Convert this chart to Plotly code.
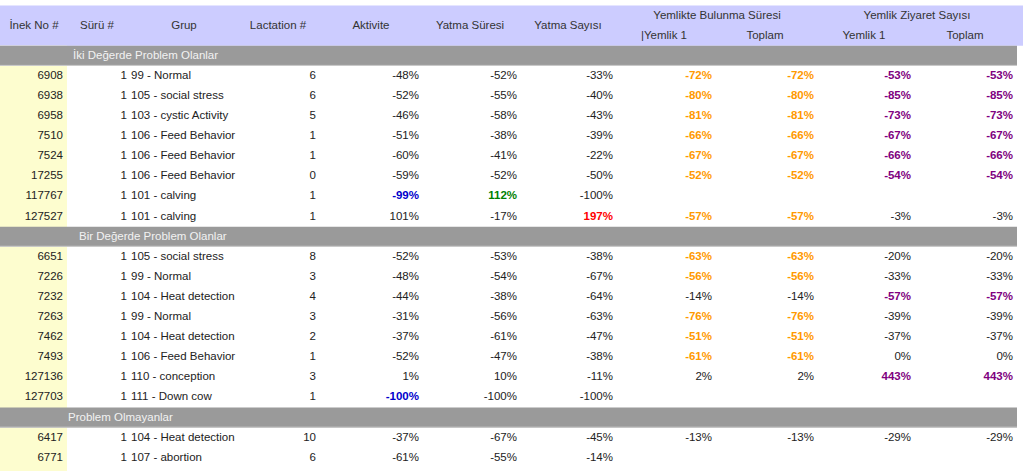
import plotly.graph_objects as go

# ---------------- data ----------------
sections = ["İki Değerde Problem Olanlar", "Bir Değerde Problem Olanlar", "Problem Olmayanlar"]
section_sizes = [8, 8, 2]

inek_no = [6908, 6938, 6958, 7510, 7524, 17255, 117767, 127527,
           6651, 7226, 7232, 7263, 7462, 7493, 127136, 127703,
           6417, 6771]
suru = [1, 1, 1, 1, 1, 1, 1, 1,
        1, 1, 1, 1, 1, 1, 1, 1,
        1, 1]
grup = ["99 - Normal", "105 - social stress", "103 - cystic Activity", "106 - Feed Behavior",
        "106 - Feed Behavior", "106 - Feed Behavior", "101 - calving", "101 - calving",
        "105 - social stress", "99 - Normal", "104 - Heat detection", "99 - Normal",
        "104 - Heat detection", "106 - Feed Behavior", "110 - conception", "111 - Down cow",
        "104 - Heat detection", "107 - abortion"]
lactation = [6, 6, 5, 1, 1, 0, 1, 1,
             8, 3, 4, 3, 2, 1, 3, 1,
             10, 6]
aktivite = [-48, -52, -46, -51, -60, -59, -99, 101,
            -52, -48, -44, -31, -37, -52, 1, -100,
            -37, -61]
yatma_suresi = [-52, -55, -58, -38, -41, -52, 112, -17,
                -53, -54, -38, -56, -61, -47, 10, -100,
                -67, -55]
yatma_sayisi = [-33, -40, -43, -39, -22, -50, -100, 197,
                -38, -67, -64, -63, -47, -38, -11, -100,
                -45, -14]
bulunma_yemlik1 = [-72, -80, -81, -66, -67, -52, None, -57,
                   -63, -56, -14, -76, -51, -61, 2, None,
                   -13, None]
bulunma_toplam = [-72, -80, -81, -66, -67, -52, None, -57,
                  -63, -56, -14, -76, -51, -61, 2, None,
                  -13, None]
ziyaret_yemlik1 = [-53, -85, -73, -67, -66, -54, None, -3,
                   -20, -33, -57, -39, -37, 0, 443, None,
                   -29, None]
ziyaret_toplam = [-53, -85, -73, -67, -66, -54, None, -3,
                  -20, -33, -57, -39, -37, 0, 443, None,
                  -29, None]

single_headers = ["İnek No #", "Sürü #", "Grup", "Lactation #", "Aktivite", "Yatma Süresi", "Yatma Sayısı"]
group_headers = ["Yemlikte Bulunma Süresi", "Yemlik Ziyaret Sayısı"]
sub_headers = ["|Yemlik 1", "Toplam", "Yemlik 1", "Toplam"]

# ---------------- layout / style ----------------
W, H = 1023, 471
TOP, PITCH = 5.6, 20.1
FONT = "Liberation Sans, Arial, sans-serif"
FS = 11.5
TXT = "#222222"
HDR_TXT = "#333333"
HDR_BG = "#ccccff"
SEC_BG = "#9a9a9a"
SEC_TXT = "#f2f2f2"
YEL = "#fdfdcf"
TABLE_RIGHT = 1017

single_header_x = [34, 97, 184, 278, 371, 470, 568]
group_header_x = [717, 917]
sub_header_x = [664, 765, 864, 965]
section_text_x = [73, 79, 68]

# anchors for values (right edge, except grup: left edge)
x_inek, x_suru, x_grup, x_lact = 63, 127, 131, 316
x_num = [419, 517, 613, 712, 814, 911, 1013]

COL_ORANGE = "#ff9900"
COL_PURPLE = "#800080"
COL_BLUE = "#0000cc"
COL_GREEN = "#008000"
COL_RED = "#ff0000"


def yc(i):
    return TOP + PITCH * (i + 0.5)


# row indices
data_rows = []
section_rows = []
r = 2
for s, n in zip(sections, section_sizes):
    section_rows.append(r)
    r += 1
    for _ in range(n):
        data_rows.append(r)
        r += 1

fig = go.Figure()
shapes = []

# header background
shapes.append(dict(type="rect", xref="x", yref="y", x0=0, x1=W, y0=TOP, y1=TOP + 2 * PITCH,
                   fillcolor=HDR_BG, line_width=0, layer="below"))
# yellow first column
shapes.append(dict(type="rect", xref="x", yref="y", x0=0, x1=67, y0=TOP + 2 * PITCH, y1=H,
                   fillcolor=YEL, line_width=0, layer="below"))
# section bands
for sr in section_rows:
    shapes.append(dict(type="rect", xref="x", yref="y", x0=0, x1=TABLE_RIGHT,
                       y0=TOP + PITCH * sr, y1=TOP + PITCH * (sr + 1),
                       fillcolor=SEC_BG, line_width=0, layer="below"))
    shapes.append(dict(type="line", xref="x", yref="y", x0=0, x1=TABLE_RIGHT,
                       y0=TOP + PITCH * (sr + 1) - 0.5, y1=TOP + PITCH * (sr + 1) - 0.5,
                       line=dict(color="#cfcfcf", width=1), layer="below"))


def add_text(xs, ys, texts, pos, color=TXT, bold=False, size=FS):
    fig.add_trace(go.Scatter(
        x=xs, y=ys, text=texts, mode="text", textposition=pos,
        textfont=dict(family=FONT, size=size, color=color, weight="bold" if bold else "normal"),
        hoverinfo="skip", showlegend=False, cliponaxis=False))


# headers
add_text(single_header_x, [TOP + PITCH] * len(single_headers), single_headers, "middle center", HDR_TXT)
add_text(group_header_x, [yc(0)] * 2, group_headers, "middle center", HDR_TXT)
add_text(sub_header_x, [yc(1)] * 4, sub_headers, "middle center", HDR_TXT)

# section titles
add_text(section_text_x, [yc(sr) for sr in section_rows], sections, "middle right", SEC_TXT)

ys = [yc(i) for i in data_rows]
add_text([x_inek] * len(ys), ys, [str(v) for v in inek_no], "middle left")
add_text([x_suru] * len(ys), ys, [str(v) for v in suru], "middle left")
add_text([x_grup] * len(ys), ys, grup, "middle right")
add_text([x_lact] * len(ys), ys, [str(v) for v in lactation], "middle left")


def color_for(col, v):
    if col == 0 and v <= -90:
        return COL_BLUE
    if col == 1 and v >= 100:
        return COL_GREEN
    if col == 2 and v >= 100:
        return COL_RED
    if col in (3, 4) and v <= -50:
        return COL_ORANGE
    if col in (5, 6) and abs(v) >= 50:
        return COL_PURPLE
    return None


numeric_cols = [aktivite, yatma_suresi, yatma_sayisi, bulunma_yemlik1, bulunma_toplam,
                ziyaret_yemlik1, ziyaret_toplam]
for ci, vals in enumerate(numeric_cols):
    groups = {}
    for y, v in zip(ys, vals):
        if v is None:
            continue
        c = color_for(ci, v)
        groups.setdefault(c, ([], []))
        groups[c][0].append(y)
        groups[c][1].append(f"{v}%")
    for c, (gy, gt) in groups.items():
        add_text([x_num[ci]] * len(gy), gy, gt, "middle left",
                 color=c if c else TXT, bold=c is not None)

fig.update_layout(
    width=W, height=H, margin=dict(l=0, r=0, t=0, b=0),
    paper_bgcolor="white", plot_bgcolor="white",
    xaxis=dict(range=[0, W], visible=False, fixedrange=True),
    yaxis=dict(range=[H, 0], visible=False, fixedrange=True),
    shapes=shapes,
)
fig.write_html("out.html", config={"displayModeBar": False},
               post_script="document.body.style.margin='0';document.body.style.overflow='hidden';")
